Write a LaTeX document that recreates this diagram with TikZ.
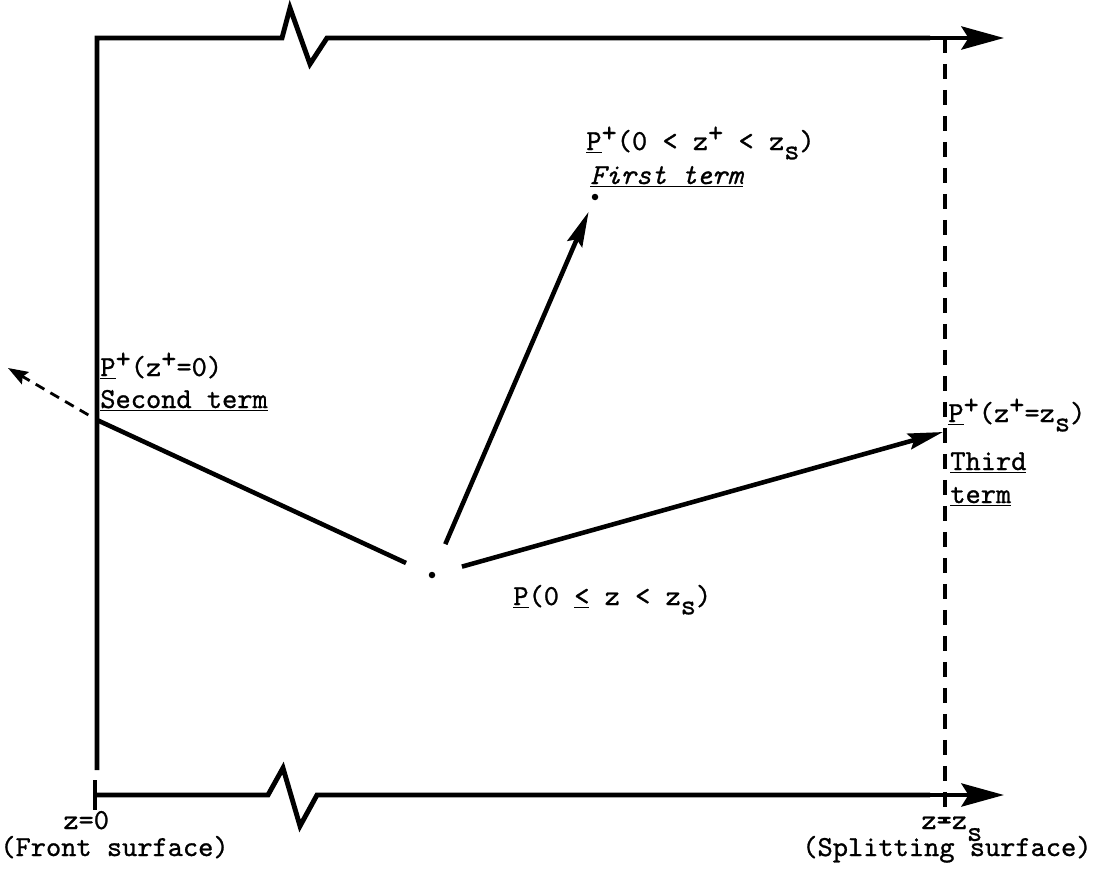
\documentclass[tikz,border=0pt]{standalone}
\usepackage{fontspec}
\setmonofont{lmmono10-regular}[Extension=.otf, ItalicFont=lmmono10-italic, FakeBold=0.9]
\usepackage{tikz}
\usetikzlibrary{arrows.meta}
\newcommand{\hichar}[1]{\raisebox{0.65ex}{#1}}
\newcommand{\lochar}[1]{\raisebox{-0.75ex}{#1}}

\begin{document}
\begin{tikzpicture}[
  x=0.02cm, y=-0.02cm,
  frame/.style={line width=2.8pt, line join=miter},
  axis/.style={frame, -{Stealth[length=0.85cm, width=0.46cm, inset=0.14cm]}},
  surf/.style={line width=2.2pt, dash pattern=on 0.3cm off 0.22cm},
  vec/.style={line width=2.6pt, -{Stealth[length=0.7cm, width=0.32cm, inset=0.1cm]}},
  back/.style={line width=1.6pt, dash pattern=on 0.2cm off 0.14cm,
    -{Stealth[length=0.4cm, width=0.28cm, inset=0.06cm]}},
  dot/.style={circle, fill, inner sep=0pt, minimum size=0.13cm},
  lbl/.style={font=\fontsize{16.5}{18}\selectfont\ttfamily, inner sep=0pt, anchor=base west}
]
  \useasboundingbox (0,0) rectangle (1099,889);

  % front surface and the two broken axes
  \draw[frame] (97,770) -- (97,38) -- (282,38) -- (290,8) -- (310,64) -- (327,38) -- (930,38);
  \draw[axis] (920,38) -- (1004,38);
  \draw[frame] (95,780) -- (95,810);
  \draw[frame] (95,795) -- (268,795) -- (283,768) -- (300,826) -- (317,795) -- (930,795);
  \draw[axis] (920,795) -- (1004,795);
  % splitting surface
  \draw[surf] (945,38) -- (945,822);

  % points
  \node[dot] (p) at (432,575) {};
  \node[dot] (q) at (595,197) {};
  \coordinate (j) at (97,420);
  \coordinate (back) at (8,368);
  \coordinate (tip3) at (943,432);

  \draw[line width=2.6pt, shorten <=0.5cm] (p) -- (j);
  \draw[back, shorten <=0.2cm] (j) -- (back);
  \draw[vec, shorten <=0.6cm, shorten >=0.25cm] (p) -- (q);
  \draw[vec, shorten <=0.55cm] (p) -- (tip3);

  % labels
  \node[lbl] (firstlbl) at (586,150) {\underline{P}\hichar{+}(0 < z\hichar{+} < z\lochar{s})};
  \node[lbl] (firstterm) at (590,184) {\underline{\itshape First term}};
  \node[lbl] (secondlbl) at (100,376) {\underline{P}\hichar{+}(z\hichar{+}=0)};
  \node[lbl] (secondterm) at (100,408) {\underline{Second term}};
  \node[lbl] (thirdlbl) at (948,422) {\underline{P}\hichar{+}(z\hichar{+}=z\lochar{s})};
  \node[lbl] (thirdterm) at (950,470) {\underline{Third}};
  \node[lbl] (thirdterm2) at (950,503) {\underline{term}};
  \node[lbl] (plbl) at (513,605) {\underline{P}(0 \underline{<} z < z\lochar{s})};
  \node[lbl] (zzero) at (63,829) {z=0};
  \node[lbl] (front) at (0,856) {(Front surface)};
  \node[lbl] (zs) at (921,829) {z=z\raisebox{-0.95ex}{s}};
  \node[lbl] (split) at (802,856) {(Splitting surface)};
\end{tikzpicture}
\end{document}
